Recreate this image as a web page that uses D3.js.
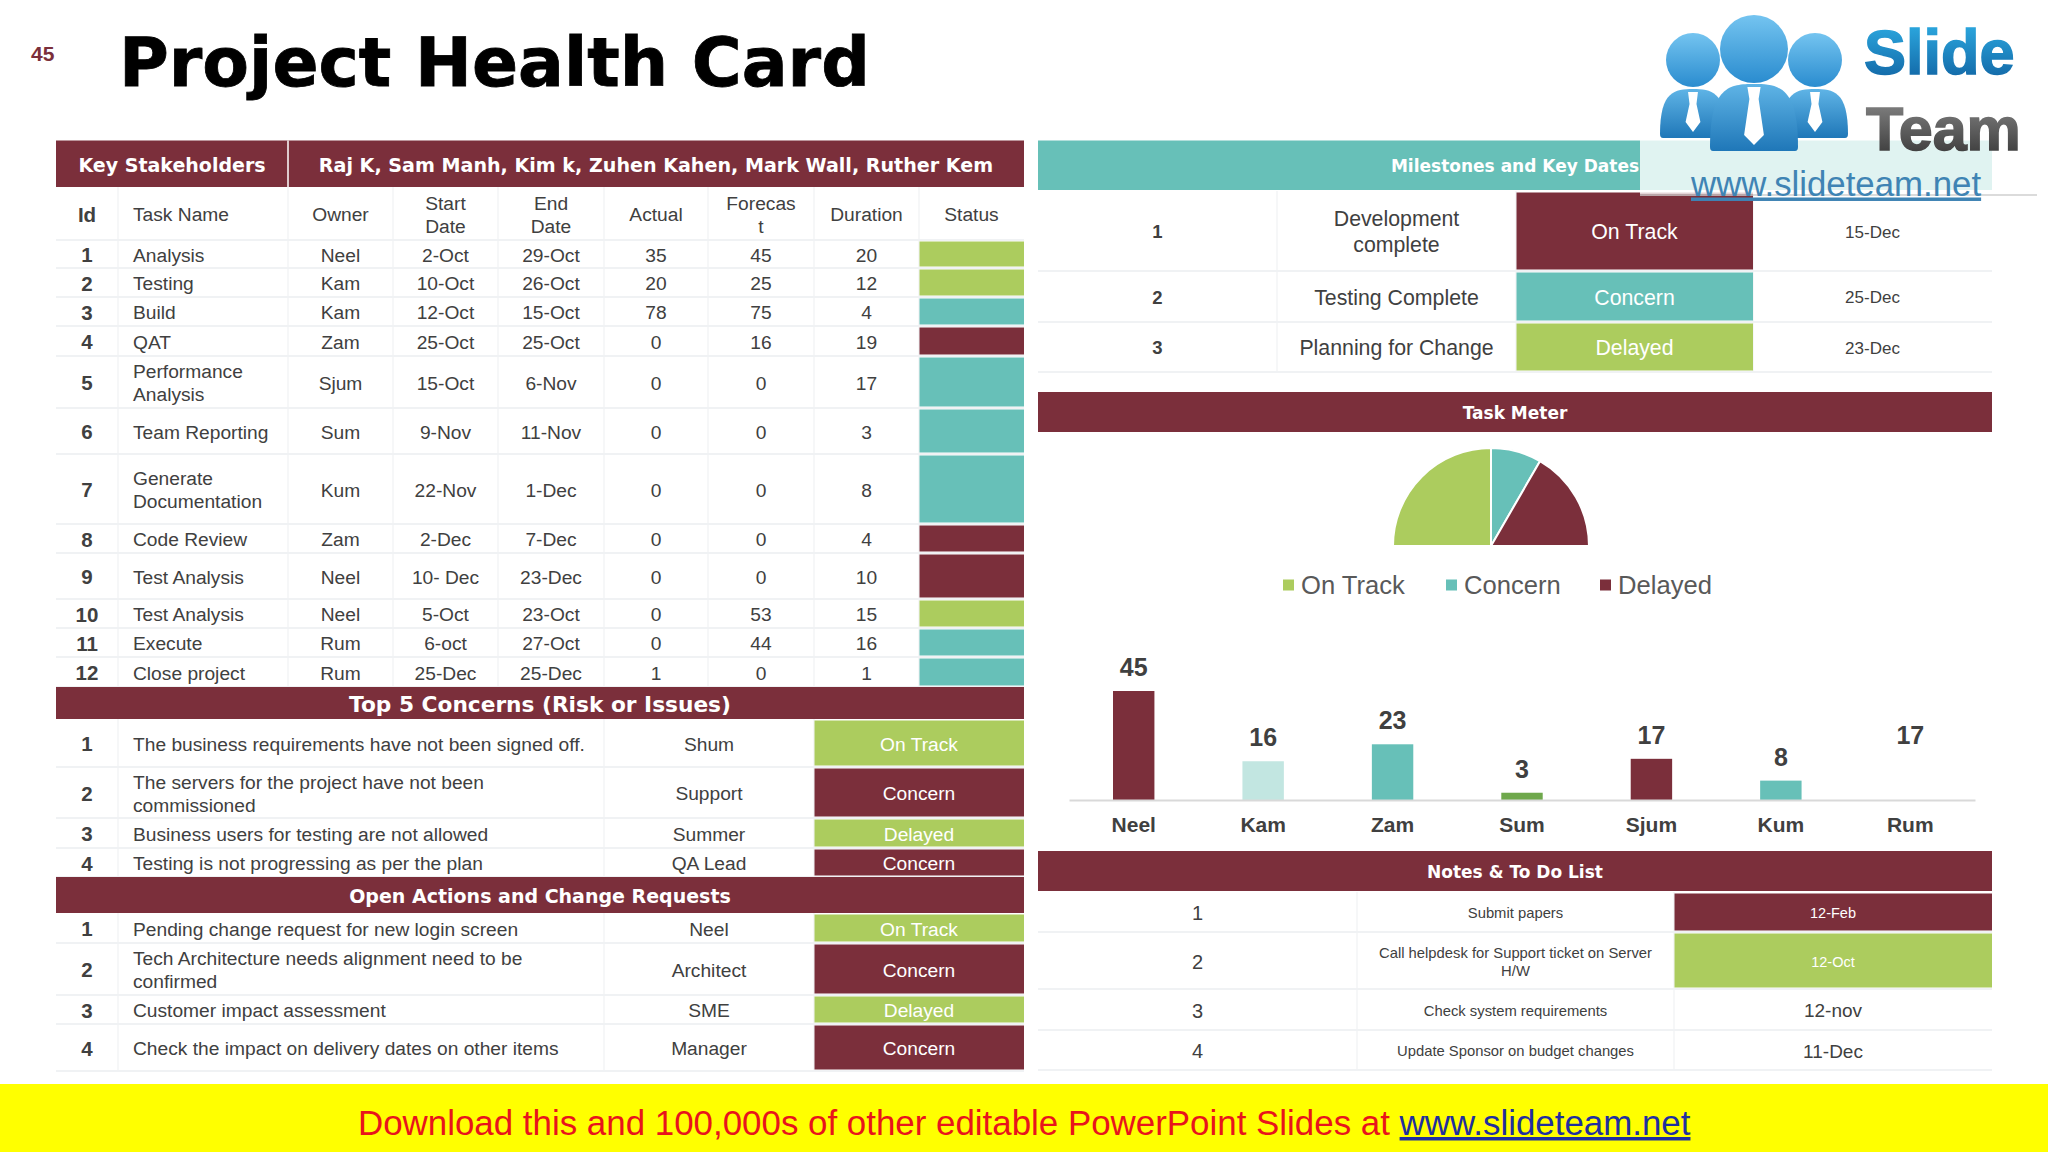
<!DOCTYPE html>
<html>
<meta charset="utf-8">

<head>
    <script src="https://d3js.org/d3.v7.min.js"></script>
    <style>
        body {
            margin: 0;
            background: white;
        }

        svg {
            display: block;
        }

        text {
            font-family: "Liberation Sans", sans-serif;
            fill: #404040;
        }

        .banner text {
            font-family: "DejaVu Sans", sans-serif;
            font-weight: bold;
            fill: white;
        }

        .gridline {
            stroke: #f0f2f4;
            stroke-width: 2;
        }
    </style>
</head>

<body>
    <svg id="card" width="2048" height="1152"></svg>

    <script>
        // ---- data ----
        const taskIds = [1, 2, 3, 4, 5, 6, 7, 8, 9, 10, 11, 12];
        const taskNames = ["Analysis", "Testing", "Build", "QAT", "Performance\nAnalysis", "Team Reporting",
            "Generate\nDocumentation", "Code Review", "Test Analysis", "Test Analysis", "Execute", "Close project"];
        const taskOwners = ["Neel", "Kam", "Kam", "Zam", "Sjum", "Sum", "Kum", "Zam", "Neel", "Neel", "Rum", "Rum"];
        const taskStarts = ["2-Oct", "10-Oct", "12-Oct", "25-Oct", "15-Oct", "9-Nov", "22-Nov", "2-Dec", "10- Dec", "5-Oct", "6-oct", "25-Dec"];
        const taskEnds = ["29-Oct", "26-Oct", "15-Oct", "25-Oct", "6-Nov", "11-Nov", "1-Dec", "7-Dec", "23-Dec", "23-Oct", "27-Oct", "25-Dec"];
        const taskActual = [35, 20, 78, 0, 0, 0, 0, 0, 0, 0, 0, 1];
        const taskForecast = [45, 25, 75, 16, 0, 0, 0, 0, 0, 53, 44, 0];
        const taskDuration = [20, 12, 4, 19, 17, 3, 8, 4, 10, 15, 16, 1];
        const taskStatus = ["green", "green", "teal", "maroon", "teal", "teal", "teal", "maroon", "maroon", "green", "teal", "teal"];
        const taskHeaders = ["Id", "Task Name", "Owner", "Start\nDate", "End\nDate", "Actual", "Forecas\nt", "Duration", "Status"];

        const concernTexts = ["The business requirements have not been signed off.", "The servers for the project have not been\ncommissioned",
            "Business users for testing are not allowed", "Testing is not progressing as per the plan"];
        const concernOwners = ["Shum", "Support", "Summer", "QA Lead"];
        const concernLabels = ["On Track", "Concern", "Delayed", "Concern"];
        const concernStatus = ["green", "maroon", "green", "maroon"];

        const actionTexts = ["Pending change request for new login screen", "Tech Architecture needs alignment need to be\nconfirmed",
            "Customer impact assessment", "Check the impact on delivery dates on other items"];
        const actionOwners = ["Neel", "Architect", "SME", "Manager"];
        const actionLabels = ["On Track", "Concern", "Delayed", "Concern"];
        const actionStatus = ["green", "maroon", "green", "maroon"];

        const milestoneNames = ["Development\ncomplete", "Testing Complete", "Planning for Change"];
        const milestoneLabels = ["On Track", "Concern", "Delayed"];
        const milestoneStatus = ["maroon", "teal", "green"];
        const milestoneDates = ["15-Dec", "25-Dec", "23-Dec"];

        const pieLabels = ["On Track", "Concern", "Delayed"];
        const pieValues = [6, 2, 4];
        const pieStatus = ["green", "teal", "maroon"];

        const barOwners = ["Neel", "Kam", "Zam", "Sum", "Sjum", "Kum", "Rum"];
        const barValues = [45, 16, 23, 3, 17, 8, 17];
        const barColors = ["#7b2f3b", "#c2e6e1", "#67c0b8", "#6fa84c", "#7b2f3b", "#67c0b8", "#ffffff"];

        const noteTexts = ["Submit papers", "Call helpdesk for Support ticket on Server\nH/W", "Check system requirements", "Update Sponsor on budget changes"];
        const noteDates = ["12-Feb", "12-Oct", "12-nov", "11-Dec"];
        const noteStatus = ["maroon", "green", null, null];

        // ---- layout ----
        const colors = { maroon: "#7b2f3b", teal: "#67c0b8", green: "#accc5e" };
        const taskCols = [56, 118, 288, 393, 498, 604, 708, 814, 919, 1024];
        const taskRows = [187, 240, 268, 297, 326, 356, 408, 454, 524, 553, 599, 628, 657, 687];
        const sideCols = [56, 118, 604, 814, 1024];
        const concernRows = [719, 767, 818, 848, 877];
        const actionRows = [913, 943, 995, 1024, 1071];
        const milestoneCols = [1038, 1277, 1516, 1753, 1992];
        const milestoneRows = [191, 271, 322, 372];
        const noteCols = [1038, 1357, 1674, 1992];
        const noteRows = [892, 932, 989, 1030, 1070];

        const svg = d3.select("svg#card");

        // draw one line or several centred round y
        const putText = function (g, str, x, y, opts) {
            const o = Object.assign({ size: 19.2, anchor: "middle", weight: "normal", fill: "#404040", lh: 23.2 }, opts);
            const lines = String(str).split("\n");
            const t = g.append("text")
                .attr("text-anchor", o.anchor)
                .attr("font-size", o.size)
                .attr("font-weight", o.weight)
                .style("fill", o.fill);
            lines.forEach((l, i) => {
                t.append("tspan")
                    .attr("x", x)
                    .attr("y", y + 1 + (i - (lines.length - 1) / 2) * o.lh + o.size * 0.35)
                    .text(l);
            });
            return t;
        };

        const banner = function (x0, x1, y0, y1, label, size, fill) {
            const g = svg.append("g").attr("class", "banner");
            g.append("rect").attr("x", x0).attr("y", y0).attr("width", x1 - x0).attr("height", y1 - y0)
                .attr("fill", fill || colors.maroon);
            g.append("text").attr("x", (x0 + x1) / 2).attr("y", (y0 + y1) / 2 + 1 + size * 0.36)
                .attr("text-anchor", "middle").attr("font-size", size).text(label);
        };

        const gridlines = function (cols, rows) {
            const g = svg.append("g");
            g.selectAll("line.h").data(rows.slice(1)).join("line").attr("class", "gridline h")
                .attr("x1", cols[0]).attr("x2", cols[cols.length - 1]).attr("y1", d => d).attr("y2", d => d);
            g.selectAll("line.v").data(cols.slice(1, -1)).join("line").attr("class", "gridline v")
                .attr("x1", d => d).attr("x2", d => d).attr("y1", rows[0]).attr("y2", rows[rows.length - 1])
                .style("stroke-width", 1.2);
            return g;
        };

        const statusCell = function (g, x0, x1, y0, y1, status, label, size) {
            if (status) {
                g.append("rect").attr("x", x0 + 0.5).attr("y", y0 + 1.5).attr("width", x1 - x0 - 0.5).attr("height", y1 - y0 - 3)
                    .attr("fill", colors[status]);
            }
            if (label) {
                putText(g, label, (x0 + x1) / 2, (y0 + y1) / 2, { size: size, fill: status ? "white" : "#404040" });
            }
        };

        const mid = (arr, i) => (arr[i] + arr[i + 1]) / 2;

        // ---- title ----
        svg.append("text").attr("x", 31).attr("y", 61).attr("font-size", 21).attr("font-weight", "bold")
            .style("fill", colors.maroon).text("45");
        svg.append("text").attr("x", 119).attr("y", 86).attr("font-size", 68).attr("font-weight", "bold")
            .style("font-family", "'DejaVu Sans'").style("fill", "black")
            .style("stroke", "black").style("stroke-width", 0.8).text("Project Health Card");

        // ---- task table ----
        banner(56, 288, 140.5, 187, "Key Stakeholders", 19);
        banner(288, 1024, 140.5, 187, "Raj K, Sam Manh, Kim k, Zuhen Kahen, Mark Wall, Ruther Kem", 19.1);
        svg.append("line").attr("x1", 288).attr("x2", 288).attr("y1", 140.5).attr("y2", 187)
            .attr("stroke", "white").attr("stroke-width", 1.5);

        const taskGroup = gridlines(taskCols, taskRows);
        taskHeaders.forEach((h, c) => {
            if (c === 1) putText(taskGroup, h, 133, mid(taskRows, 0), { anchor: "start" });
            else putText(taskGroup, h, mid(taskCols, c), mid(taskRows, 0), { weight: c === 0 ? "bold" : "normal", size: c === 0 ? 20.5 : 19.2 });
        });
        taskIds.forEach((id, i) => {
            const y = mid(taskRows, i + 1);
            putText(taskGroup, id, mid(taskCols, 0), y, { weight: "bold", size: 20.5 });
            putText(taskGroup, taskNames[i], 133, y, { anchor: "start" });
            [taskOwners, taskStarts, taskEnds, taskActual, taskForecast, taskDuration].forEach((col, c) => {
                putText(taskGroup, col[i], mid(taskCols, c + 2), y);
            });
            statusCell(taskGroup, taskCols[8], taskCols[9], taskRows[i + 1], taskRows[i + 2], taskStatus[i]);
        });

        // ---- concerns and actions ----
        const sideTable = function (rows, texts, owners, labels, status) {
            const g = gridlines(sideCols, rows);
            texts.forEach((t, i) => {
                const y = mid(rows, i);
                putText(g, i + 1, mid(sideCols, 0), y, { weight: "bold", size: 20.5 });
                putText(g, t, 133, y, { anchor: "start" });
                putText(g, owners[i], mid(sideCols, 2), y);
                statusCell(g, sideCols[3], sideCols[4], rows[i], rows[i + 1], status[i], labels[i], 19.2);
            });
        };
        banner(56, 1024, 687, 719, "Top 5 Concerns (Risk or Issues)", 21.7);
        sideTable(concernRows, concernTexts, concernOwners, concernLabels, concernStatus);
        banner(56, 1024, 877, 913, "Open Actions and Change Requests", 19);
        sideTable(actionRows, actionTexts, actionOwners, actionLabels, actionStatus);

        // ---- milestones ----
        banner(1038, 1992, 140.5, 190, "Milestones and Key Dates", 17, colors.teal);
        const mileGroup = gridlines(milestoneCols, milestoneRows);
        milestoneNames.forEach((n, i) => {
            const y = mid(milestoneRows, i);
            putText(mileGroup, i + 1, mid(milestoneCols, 0), y, { weight: "bold", size: 18.5 });
            putText(mileGroup, n, mid(milestoneCols, 1), y, { size: 21.3, lh: 26 });
            statusCell(mileGroup, milestoneCols[2], milestoneCols[3], milestoneRows[i], milestoneRows[i + 1], milestoneStatus[i], milestoneLabels[i], 21.3);
            putText(mileGroup, milestoneDates[i], mid(milestoneCols, 3), y, { size: 17 });
        });

        // ---- task meter ----
        banner(1038, 1992, 392, 432, "Task Meter", 17);
        const pieGen = d3.pie().sort(null).startAngle(-Math.PI / 2).endAngle(Math.PI / 2);
        const arcGen = d3.arc().innerRadius(0).outerRadius(98);
        svg.append("g").attr("transform", "translate(1491,546)")
            .selectAll("path").data(pieGen(pieValues)).join("path")
            .attr("d", arcGen)
            .attr("fill", (d, i) => colors[pieStatus[i]])
            .attr("stroke", "white").attr("stroke-width", 2);

        const legendX = d3.scaleOrdinal().domain(pieLabels).range([1283, 1446, 1600]);
        const legend = svg.append("g").selectAll("g").data(pieLabels).join("g")
            .attr("transform", d => `translate(${legendX(d)},585)`);
        legend.append("rect").attr("y", -5.5).attr("width", 11).attr("height", 11)
            .attr("fill", (d, i) => colors[pieStatus[i]]);
        legend.append("text").attr("x", 18).attr("y", 9).attr("font-size", 25.6).style("fill", "#595959").text(d => d);

        // ---- owner bars ----
        const barX = d3.scaleBand().domain(barOwners).range([1069, 1975]).paddingInner(0.68).paddingOuter(0.34);
        const barY = d3.scaleLinear().domain([0, 45]).range([800, 691]);
        const bars = svg.append("g");
        bars.selectAll("rect").data(barValues).join("rect")
            .attr("x", (d, i) => barX(barOwners[i]))
            .attr("width", barX.bandwidth())
            .attr("y", d => barY(d))
            .attr("height", d => barY(0) - barY(d))
            .attr("fill", (d, i) => barColors[i]);
        bars.selectAll("text.value").data(barValues).join("text").attr("class", "value")
            .attr("x", (d, i) => barX(barOwners[i]) + barX.bandwidth() / 2)
            .attr("y", d => barY(d) - 15)
            .attr("text-anchor", "middle").attr("font-size", 25).attr("font-weight", "bold")
            .text(d => d);
        const barAxis = svg.append("g").attr("transform", "translate(0,800)")
            .call(d3.axisBottom(barX).tickSize(0).tickPadding(17));
        barAxis.select(".domain").attr("stroke", "#d9d9d9").attr("stroke-width", 2);
        barAxis.selectAll("text").style("font-family", "'Liberation Sans'").style("font-size", "21px")
            .style("font-weight", "bold").style("fill", "#404040");

        // ---- notes ----
        banner(1038, 1992, 851, 891, "Notes & To Do List", 17);
        const noteGroup = gridlines(noteCols, noteRows);
        noteTexts.forEach((n, i) => {
            const y = mid(noteRows, i);
            putText(noteGroup, i + 1, mid(noteCols, 0), y, { size: 20 });
            putText(noteGroup, n, mid(noteCols, 1), y, { size: 14.8, lh: 18 });
            statusCell(noteGroup, noteCols[2], noteCols[3], noteRows[i], noteRows[i + 1], noteStatus[i], noteDates[i], noteStatus[i] ? 14.5 : 19);
        });

        // ---- slideteam watermark ----
        const defs = svg.append("defs");
        const grad = function (id, top, bottom) {
            const g = defs.append("linearGradient").attr("id", id).attr("x1", 0).attr("x2", 0).attr("y1", 0).attr("y2", 1);
            g.append("stop").attr("offset", 0).attr("stop-color", top);
            g.append("stop").attr("offset", 1).attr("stop-color", bottom);
        };
        grad("headBlue", "#74c4f0", "#2a8ccf");
        grad("bodyBlue", "#5fb4e6", "#1f77b8");
        grad("slideBlue", "#2fb0e6", "#0f5f9f");
        grad("teamGrey", "#8a8a8a", "#333333");

        const logo = svg.append("g");
        logo.append("rect").attr("x", 1640).attr("y", 0).attr("width", 397).attr("height", 194)
            .attr("fill", "white").attr("fill-opacity", 0.8);
        logo.append("line").attr("x1", 1640).attr("x2", 2037).attr("y1", 195).attr("y2", 195)
            .attr("stroke", "#cfcfcf").attr("stroke-width", 1.5);

        const person = function (cx, headY, headR, bodyTop, bodyBottom, bodyHalf) {
            const g = logo.append("g");
            g.append("ellipse").attr("cx", cx).attr("cy", headY).attr("rx", headR).attr("ry", headR)
                .attr("fill", "url(#headBlue)");
            g.append("path")
                .attr("d", `M${cx - bodyHalf + 3},${bodyBottom} Q${cx - bodyHalf},${bodyBottom} ${cx - bodyHalf},${bodyBottom - 4}
                    C${cx - bodyHalf},${bodyTop + 2} ${cx - bodyHalf * 0.55},${bodyTop} ${cx},${bodyTop}
                    C${cx + bodyHalf * 0.55},${bodyTop} ${cx + bodyHalf},${bodyTop + 2} ${cx + bodyHalf},${bodyBottom - 4}
                    Q${cx + bodyHalf},${bodyBottom} ${cx + bodyHalf - 3},${bodyBottom} Z`)
                .attr("fill", "url(#bodyBlue)");
            const w = bodyHalf * 0.15;
            g.append("path")
                .attr("d", `M${cx - w},${bodyTop + 3} L${cx + w},${bodyTop + 3} L${cx + w * 0.7},${bodyTop + 15}
                    L${cx + w * 1.5},${bodyBottom - 16} L${cx},${bodyBottom - 6} L${cx - w * 1.5},${bodyBottom - 16} L${cx - w * 0.7},${bodyTop + 15} Z`)
                .attr("fill", "white");
        };
        person(1693, 60, 27, 89, 138, 33);
        person(1815, 60, 27, 89, 138, 33);
        person(1754, 49, 34, 84, 151, 44);

        logo.append("text").attr("x", 1864).attr("y", 74).attr("font-size", 63).attr("font-weight", "bold")
            .style("fill", "url(#slideBlue)").style("stroke", "url(#slideBlue)").style("stroke-width", 1.5).text("Slide");
        logo.append("text").attr("x", 1866).attr("y", 150).attr("font-size", 61).attr("font-weight", "bold")
            .style("fill", "url(#teamGrey)").style("stroke", "url(#teamGrey)").style("stroke-width", 1.5).text("Team");
        logo.append("text").attr("x", 1691).attr("y", 195.5).attr("font-size", 34.8)
            .style("fill", "#3f84b4").attr("text-decoration", "underline").text("www.slideteam.net");

        // ---- footer ----
        svg.append("rect").attr("x", 0).attr("y", 1084).attr("width", 2048).attr("height", 68).attr("fill", "#ffff00");
        const footer = svg.append("text").attr("x", 358).attr("y", 1135).attr("font-size", 34.9);
        footer.append("tspan").style("fill", "#e8141c").text("Download this and 100,000s of other editable PowerPoint Slides at ");
        footer.append("tspan").style("fill", "#1f2f9f").attr("text-decoration", "underline").text("www.slideteam.net");
    </script>
</body>

</html>
